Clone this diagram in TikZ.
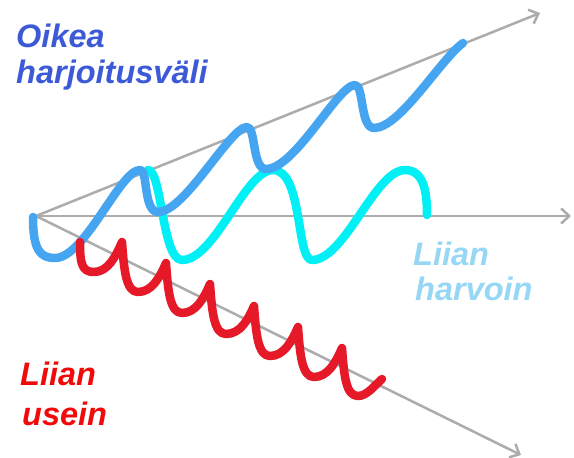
\documentclass[tikz,border=0pt]{standalone}
\usepackage{fontspec}
\setmainfont{Liberation Sans}
\usetikzlibrary{arrows.meta}
\definecolor{axisgray}{RGB}{172,172,172}
\definecolor{bluec}{RGB}{70,165,240}
\definecolor{cyanc}{RGB}{0,240,245}
\definecolor{redc}{RGB}{230,25,40}
\definecolor{textblue}{RGB}{60,90,215}
\definecolor{textlight}{RGB}{150,215,245}
\definecolor{textred}{RGB}{240,10,10}
\begin{document}
\begin{tikzpicture}[x=1pt,y=-1pt,
  axis/.style={draw=axisgray, line width=2.5pt, -{Straight Barb[length=8pt,width=15pt]}},
  wave/.style={line width=8.5pt, line cap=round, line join=round},
  lbl/.style={inner sep=0pt, anchor=base west, font=\fontsize{32.5}{38}\selectfont\bfseries\itshape}]
\useasboundingbox (0,0) rectangle (574,458);
\fill[white] (0,0) rectangle (574,458);
\coordinate (O) at (36,216);
\coordinate (U) at (540,13);
\coordinate (H) at (571,216);
\coordinate (L) at (521,455);
\draw[axis] (O) -- (U);
\draw[axis] (O) -- (H);
\draw[axis] (O) -- (L);
% too rarely
\draw[wave, cyanc] (148,170) .. controls (162,170) and (162,260) .. (182,260)
 .. controls (215,260) and (245,170) .. (273,170)
 .. controls (303,170) and (296,260) .. (312,260)
 .. controls (345,260) and (375,170) .. (405,170)
 .. controls (425,170) and (427,195) .. (427,215);
% right interval
\draw[wave, bluec] (33,217) .. controls (33,250) and (40,258) .. (55,258)
 .. controls (85,258) and (120,170) .. (140,170)
 .. controls (148,168) and (143,212) .. (158,212)
 .. controls (185,212) and (230,127) .. (247,127)
 .. controls (256,127) and (252,169) .. (266,169)
 .. controls (295,169) and (338,85) .. (355,85)
 .. controls (364,85) and (360,128) .. (374,128)
 .. controls (400,128) and (440,60) .. (463,43);
% too often
\draw[wave, redc] (80,242) .. controls (80,264) and (82,272) .. (94,272)
 .. controls (108,272) and (116,256) .. (122,242)
 .. controls (124,270) and (126,292) .. (138,292)
 .. controls (152,292) and (160,277) .. (166,263)
 .. controls (168,291) and (170,313) .. (182,313)
 .. controls (196,313) and (204,298) .. (210,284)
 .. controls (212,312) and (214,334) .. (226,334)
 .. controls (240,334) and (248,320) .. (254,306)
 .. controls (256,334) and (258,356) .. (270,356)
 .. controls (284,356) and (292,341) .. (298,327)
 .. controls (300,355) and (302,377) .. (314,377)
 .. controls (328,377) and (336,362) .. (342,348)
 .. controls (344,376) and (346,396) .. (358,396)
 .. controls (367,396) and (375,385) .. (382,379);
\node[lbl, textblue] (t1) at (16,47) {Oikea};
\node[lbl, textblue] (t2) at (16,83) {harjoitusväli};
\node[lbl, textlight] (t3) at (413,265) {Liian};
\node[lbl, textlight] (t4) at (415,300) {harvoin};
\node[lbl, textred] (t5) at (20,385) {Liian};
\node[lbl, textred] (t6) at (22,425) {usein};
\end{tikzpicture}
\end{document}
